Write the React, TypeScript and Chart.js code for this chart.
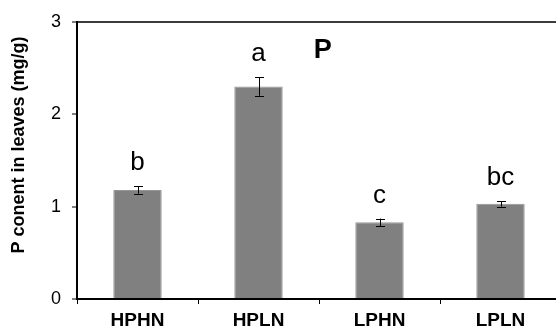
import React, { useEffect, useRef } from "react";
import { Chart, registerables } from "chart.js";

Chart.register(...registerables);

// Leaf phosphorus content per treatment (mean ± SE) with significance letters
const categories = ["HPHN", "HPLN", "LPHN", "LPLN"];
const means = [1.18, 2.3, 0.83, 1.03];
const errors = [0.04, 0.1, 0.04, 0.03];
const letters = ["b", "a", "c", "bc"];
const yMin = 0;
const yMax = 3;
const yStep = 1;
const panelTitle = "P";
const yTitle = "P conent in leaves (mg/g)";

const FONT = "'Liberation Sans', Arial, Helvetica, sans-serif";

const annotations = {
  id: "barAnnotations",
  afterDatasetsDraw(chart: any) {
    const { ctx, chartArea, scales } = chart;
    const y = scales.y;
    const meta = chart.getDatasetMeta(0);
    ctx.save();
    // error bars
    ctx.strokeStyle = "#000";
    ctx.lineWidth = 1;
    meta.data.forEach((bar: any, i: number) => {
      const x = Math.round(bar.x) + 0.5;
      const top = y.getPixelForValue(means[i] + errors[i]);
      const bot = y.getPixelForValue(means[i] - errors[i]);
      ctx.beginPath();
      ctx.moveTo(x, top);
      ctx.lineTo(x, bot);
      ctx.moveTo(x - 4.5, Math.round(top) + 0.5);
      ctx.lineTo(x + 4.5, Math.round(top) + 0.5);
      ctx.moveTo(x - 4.5, Math.round(bot) + 0.5);
      ctx.lineTo(x + 4.5, Math.round(bot) + 0.5);
      ctx.stroke();
      // significance letter
      ctx.fillStyle = "#000";
      ctx.font = `26px ${FONT}`;
      ctx.textAlign = "center";
      ctx.textBaseline = "alphabetic";
      ctx.fillText(letters[i], bar.x, top - 16);
    });
    // panel title
    ctx.font = `bold 27px ${FONT}`;
    ctx.textAlign = "center";
    ctx.textBaseline = "alphabetic";
    ctx.fillText(panelTitle, chartArea.left + (chartArea.right - chartArea.left) * 0.508, 58);
    // y axis title
    ctx.translate(19, 145);
    ctx.rotate(-Math.PI / 2);
    ctx.font = `bold 18px ${FONT}`;
    ctx.textBaseline = "middle";
    ctx.fillText(yTitle, 0, 0);
    ctx.restore();
  },
};

export default function App() {
  const ref = useRef<HTMLCanvasElement | null>(null);

  useEffect(() => {
    if (!ref.current) return;
    const chart = new Chart(ref.current, {
      type: "bar",
      data: {
        labels: categories,
        datasets: [
          {
            data: means,
            backgroundColor: "#808080",
            borderColor: "#959595",
            borderWidth: 1,
            barPercentage: 0.4,
            categoryPercentage: 1,
          },
        ],
      },
      options: {
        responsive: false,
        animation: false,
        devicePixelRatio: 1,
        layout: { padding: { top: 19, right: 19, left: 0, bottom: 0 } },
        plugins: {
          legend: { display: false },
          tooltip: { enabled: false },
          title: { display: false },
        },
        scales: {
          x: {
            afterFit: (s: any) => {
              s.height = 33;
            },
            grid: {
              offset: true,
              drawOnChartArea: false,
              tickColor: "#000",
              tickLength: 5,
              tickWidth: 1,
            },
            border: { color: "#000", width: 2 },
            ticks: {
              color: "#000",
              padding: 5,
              font: { family: FONT, size: 19, weight: "bold" },
            },
          },
          y: {
            min: yMin,
            max: yMax,
            afterFit: (s: any) => {
              s.width = 77;
            },
            grid: {
              color: (c: any) => (c.tick && c.tick.value === yMax ? "#3c3c3c" : "rgba(0,0,0,0)"),
              lineWidth: 2,
              tickColor: "#000",
              tickLength: 5,
              tickWidth: 1,
            },
            border: { color: "#000", width: 2 },
            ticks: {
              stepSize: yStep,
              color: "#000",
              padding: 11,
              font: { family: FONT, size: 18 },
            },
          },
        },
      },
      plugins: [annotations],
    });
    return () => chart.destroy();
  }, []);

  return (
    <div
      style={{
        position: "fixed",
        left: 0,
        top: 0,
        width: 556,
        height: 332,
        overflow: "hidden",
        background: "#fff",
      }}
    >
      <canvas ref={ref} width={580} height={332} style={{ width: 580, height: 332, display: "block" }} />
    </div>
  );
}
